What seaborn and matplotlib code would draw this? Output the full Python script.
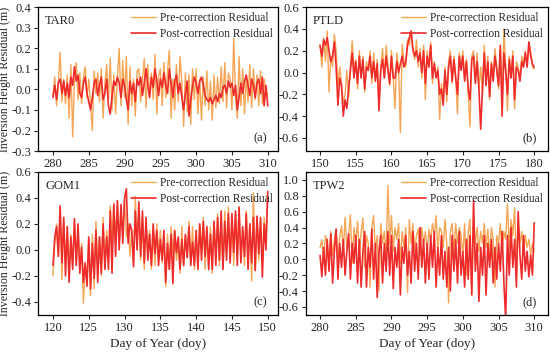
import numpy as np
import pandas as pd
import matplotlib
matplotlib.use('Agg')
import matplotlib.pyplot as plt
import seaborn as sns

# values, 4 samples per day (one row = one day)
tar0_pre = [
    -0.03, 0.06, -0.08, 0.04,
    0.18, -0.06, 0.05, -0.07,
    0.07, -0.14, 0.12, -0.23,
    0.04, 0.13, -0.05, 0.08,
    -0.07, 0.06, 0.11, -0.04,
    0.05, -0.08, -0.20, 0.09,
    -0.02, 0.08, -0.06, 0.10,
    -0.14, 0.03, 0.12, -0.05,
    0.15, -0.10, 0.07, -0.12,
    0.06, 0.20, -0.08, 0.14,
    -0.04, 0.16, -0.17, 0.11,
    -0.08, 0.05, -0.13, 0.09,
    0.10, -0.06, 0.04, 0.15,
    -0.09, 0.12, -0.03, 0.08,
    -0.05, 0.17, -0.12, 0.06,
    0.10, -0.08, 0.13, -0.04,
    0.09, 0.19, -0.14, 0.05,
    -0.10, 0.12, -0.06, 0.16,
    0.04, -0.18, 0.08, -0.11,
    0.07, -0.17, 0.10, -0.05,
    0.10, -0.12, 0.05, -0.15,
    0.06, -0.08, 0.09, -0.10,
    0.04, -0.15, 0.07, -0.09,
    0.06, -0.07, 0.11, -0.06,
    0.13, -0.09, 0.08, 0.05,
    -0.10, 0.25, -0.04, -0.14,
    0.16, -0.08, 0.10, -0.12,
    0.06, -0.06, 0.12, -0.09,
    0.10, -0.05, 0.07, -0.08,
    0.09, -0.07, 0.05, -0.04,
    -0.02]
tar0_post = [
    -0.04, 0.02, -0.05, 0.03,
    0.05, -0.02, 0.04, -0.03,
    0.03, -0.04, 0.06, 0.02,
    0.11, 0.04, 0.07, -0.02,
    -0.04, 0.03, 0.06, -0.02,
    -0.06, -0.10, -0.04, 0.03,
    0.05, -0.03, 0.02, 0.06,
    -0.05, -0.02, 0.05, -0.08,
    -0.12, -0.03, 0.04, 0.02,
    0.06, 0.03, -0.04, 0.05,
    0.02, -0.05, -0.10, 0.04,
    -0.02, 0.03, -0.06, 0.05,
    0.02, 0.06, -0.03, 0.03,
    0.10, 0.02, -0.04, 0.06,
    0.01, 0.10, 0.04, -0.03,
    0.05, 0.01, 0.08, 0.02,
    -0.02, 0.10, 0.03, -0.04,
    0.04, 0.07, -0.02, 0.03,
    -0.04, -0.10, -0.02, 0.04,
    -0.13, -0.05, 0.02, 0.06,
    0.03, -0.02, 0.04, 0.06,
    0.02, -0.03, -0.05, -0.06,
    -0.04, -0.07, -0.05, -0.03,
    -0.06, -0.02, -0.04, 0.01,
    0.02, -0.02, 0.04, 0.01,
    0.03, -0.03, 0.02, -0.10,
    -0.04, 0.03, -0.02, 0.04,
    0.07, 0.02, -0.03, 0.05,
    0.02, -0.04, 0.03, 0.05,
    -0.02, 0.06, -0.08, 0.02,
    -0.08]

ptld_pre = [
    0.25, 0.05, 0.32, 0.10,
    0.38, -0.18, 0.15, 0.05,
    0.35, 0.20, -0.12, 0.05,
    -0.10, -0.28, -0.20, 0.02,
    -0.22, 0.05, 0.29, 0.03,
    0.12, -0.15, 0.20, -0.05,
    0.15, -0.18, 0.10, 0.02,
    0.20, -0.10, 0.18, -0.05,
    0.12, -0.30, 0.05, 0.22,
    -0.05, 0.25, 0.08, -0.12,
    0.20, -0.05, -0.33, 0.18,
    0.05, -0.55, 0.26, 0.10,
    0.05, 0.30, 0.25, 0.38,
    0.20, 0.12, 0.30, 0.05,
    0.22, -0.05, 0.25, -0.25,
    0.20, 0.05, 0.28, -0.10,
    0.10, -0.05, 0.05, -0.43,
    -0.10, -0.25, 0.05, -0.27,
    0.10, 0.20, -0.10, 0.15,
    -0.05, -0.38, 0.18, 0.05,
    0.20, -0.05, 0.12, -0.20,
    -0.50, 0.15, 0.20, -0.05,
    0.18, -0.15, 0.05, -0.20,
    0.25, -0.10, 0.15, -0.25,
    0.10, -0.05, 0.22, 0.05,
    -0.15, 0.20, -0.30, 0.40,
    0.05, -0.35, 0.15, -0.05,
    0.20, -0.33, 0.10, 0.05,
    -0.05, 0.15, 0.08, 0.20,
    0.05, 0.28, 0.20, 0.05,
    0.03]
ptld_post = [
    0.25, 0.15, 0.30, 0.25,
    0.32, 0.20, 0.10, 0.15,
    0.28, 0.05, -0.30, -0.05,
    -0.12, -0.40, -0.25, -0.33,
    -0.15, 0.02, 0.18, -0.05,
    0.10, -0.10, 0.15, -0.05,
    0.12, -0.15, 0.05, 0.02,
    0.15, -0.05, 0.10, -0.08,
    0.08, -0.35, 0.02, 0.12,
    -0.05, 0.15, 0.02, -0.10,
    0.15, -0.05, -0.05, 0.10,
    0.00, 0.08, 0.15, 0.05,
    0.10, 0.25, 0.32, 0.38,
    0.22, 0.15, 0.20, 0.10,
    0.18, 0.00, 0.20, -0.10,
    0.15, 0.05, 0.25, -0.05,
    0.08, -0.05, 0.02, -0.20,
    -0.15, -0.30, 0.02, -0.20,
    0.05, 0.15, -0.08, 0.12,
    -0.05, -0.20, 0.15, 0.02,
    0.15, -0.08, 0.10, -0.15,
    -0.25, 0.12, 0.15, -0.10,
    0.10, -0.15, -0.52, -0.15,
    0.18, -0.12, 0.10, -0.22,
    0.08, -0.08, 0.15, 0.02,
    -0.12, 0.25, -0.40, 0.18,
    0.02, -0.20, 0.12, -0.05,
    0.15, -0.25, 0.05, 0.02,
    -0.08, 0.10, 0.05, 0.18,
    0.05, 0.28, 0.15, 0.08,
    0.05]

gom1_pre = [
    -0.20, 0.05, 0.20, -0.05,
    0.30, -0.23, 0.22, -0.10,
    0.18, -0.20, 0.12, -0.12,
    0.20, -0.12, 0.15, -0.15,
    0.05, -0.41, -0.10, -0.25,
    0.08, -0.35, 0.12, -0.30,
    0.22, -0.15, 0.10, -0.20,
    0.25, -0.12, 0.15, -0.10,
    0.34, 0.05, 0.36, 0.10,
    0.35, 0.05, 0.30, 0.15,
    0.38, 0.10, 0.20, -0.05,
    0.15, -0.10, 0.41, 0.05,
    0.30, -0.08, 0.25, -0.15,
    0.20, -0.02, 0.15, -0.15,
    0.12, -0.12, 0.20, -0.05,
    0.15, -0.10, 0.08, -0.28,
    0.12, -0.15, 0.18, -0.02,
    0.15, -0.08, 0.05, -0.18,
    0.18, -0.12, 0.10, -0.05,
    0.22, -0.10, 0.18, -0.15,
    0.12, -0.12, 0.20, 0.00,
    0.25, -0.15, 0.12, -0.12,
    0.18, -0.18, 0.22, -0.04,
    0.28, -0.12, 0.15, -0.15,
    0.30, -0.02, 0.33, -0.08,
    0.20, -0.12, 0.28, 0.00,
    0.32, -0.08, 0.15, -0.12,
    0.30, -0.10, 0.20, -0.24,
    0.44, -0.15, 0.25, -0.08,
    0.22, -0.10, 0.25, 0.10,
    0.40]
gom1_post = [
    -0.12, 0.10, 0.18, -0.05,
    0.34, -0.10, 0.25, -0.20,
    0.18, -0.25, 0.10, -0.15,
    0.24, -0.12, 0.20, -0.18,
    0.02, -0.25, -0.10, -0.28,
    0.10, -0.30, 0.05, -0.22,
    0.15, -0.25, 0.10, -0.18,
    0.20, -0.15, 0.10, -0.15,
    0.30, -0.18, 0.35, -0.05,
    0.38, 0.00, 0.35, 0.05,
    0.40, 0.47, 0.05, 0.20,
    0.15, -0.13, 0.30, 0.00,
    0.37, -0.05, 0.30, -0.10,
    0.25, -0.08, 0.12, -0.12,
    0.20, -0.03, 0.15, -0.12,
    0.08, -0.08, 0.15, -0.25,
    0.05, -0.15, 0.12, -0.26,
    0.15, -0.02, 0.10, -0.15,
    0.08, -0.12, 0.12, -0.06,
    0.18, -0.12, 0.06, -0.12,
    0.15, -0.15, 0.20, -0.08,
    0.22, -0.05, 0.18, -0.15,
    0.12, -0.15, 0.22, -0.12,
    0.25, -0.08, 0.30, -0.15,
    0.22, -0.08, 0.28, -0.10,
    0.28, -0.02, 0.30, -0.12,
    0.33, -0.10, 0.18, -0.05,
    0.28, -0.15, 0.20, -0.10,
    0.25, -0.16, 0.26, -0.03,
    0.25, -0.21, 0.20, 0.00,
    0.45]

tpw2_pre = [
    0.15, 0.25, -0.05, 0.30,
    0.20, -0.10, 0.35, 0.05,
    0.25, 0.38, -0.05, 0.28,
    0.42, 0.10, 0.53, 0.15,
    0.30, 0.56, -0.05, 0.40,
    0.20, 0.48, 0.05, 0.35,
    0.52, -0.10, 0.30, 0.20,
    -0.35, 0.40, 0.55, 0.10,
    0.30, -0.40, 0.45, 0.20,
    0.35, 0.05, 0.93, 0.20,
    0.55, 0.10, 0.40, 0.25,
    0.45, -0.05, 0.35, 0.15,
    0.40, -0.42, 0.50, 0.20,
    0.45, 0.10, 0.30, 0.38,
    0.05, 0.40, 0.20, 0.35,
    0.10, 0.38, 0.25, 0.45,
    0.30, 0.55, 0.10, 0.40,
    0.35, 0.15, 0.50, 0.20,
    -0.55, 0.35, 0.45, 0.10,
    0.45, 0.20, 0.40, 0.30,
    0.05, 0.45, -0.20, 0.35,
    0.50, -0.42, 0.45, 0.20,
    0.40, 0.10, 0.35, 0.20,
    0.45, 0.15, 0.38, 0.05,
    0.40, 0.25, -0.35, 0.30,
    0.20, 0.45, 0.10, 0.35,
    0.25, 0.70, 0.15, 0.50,
    0.30, 0.65, -0.10, 0.45,
    0.20, 0.35, 0.10, 0.30,
    0.15, 0.25, 0.05, 0.20,
    0.10]
tpw2_post = [
    0.05, -0.22, 0.15, -0.20,
    0.25, -0.15, 0.32, -0.30,
    0.10, 0.38, -0.25, 0.20,
    -0.10, 0.25, -0.20, 0.10,
    0.32, -0.25, 0.20, -0.05,
    0.30, -0.30, 0.25, -0.35,
    0.10, 0.35, -0.35, 0.15,
    -0.10, 0.38, -0.25, 0.20,
    -0.48, 0.10, 0.30, -0.30,
    0.20, -0.15, 0.35, -0.20,
    0.30, -0.37, 0.15, -0.10,
    0.25, -0.45, 0.15, -0.05,
    0.30, -0.20, 0.10, -0.30,
    0.35, -0.15, 0.20, -0.25,
    0.40, -0.10, 0.25, -0.30,
    0.20, -0.25, 0.30, -0.10,
    0.35, -0.35, 0.15, -0.20,
    0.30, -0.25, 0.10, -0.35,
    0.15, -0.40, 0.30, -0.15,
    0.25, -0.30, 0.35, -0.20,
    0.10, -0.35, 0.25, -0.25,
    0.30, -0.45, 0.74, -0.15,
    0.20, -0.53, 0.15, -0.20,
    0.30, -0.45, 0.20, -0.10,
    0.25, -0.30, 0.15, -0.25,
    0.20, -0.15, 0.35, -0.30,
    -0.75, 0.30, -0.20, 0.40,
    -0.10, 0.25, -0.35, 0.60,
    0.05, -0.25, 0.30, -0.15,
    0.10, -0.22, 0.05, -0.20,
    0.46]

stations = ["TAR0", "PTLD", "GOM1", "TPW2"]
start_days = [280, 150, 120, 280]
panel_tags = ["(a)", "(b)", "(c)", "(d)"]
pre_series = [tar0_pre, ptld_pre, gom1_pre, tpw2_pre]
post_series = [tar0_post, ptld_post, gom1_post, tpw2_post]
ylims = [(-0.3, 0.4), (-0.72, 0.6), (-0.5, 0.6), (-0.7, 1.1)]
yticks = [np.arange(-0.3, 0.41, 0.1), np.arange(-0.6, 0.61, 0.2),
          np.arange(-0.4, 0.61, 0.2), np.arange(-0.6, 1.01, 0.2)]
xpads = [(2.1, 31.4), (2.0, 31.9), (2.1, 31.4), (2.0, 31.9)]

sns.set_theme(style="ticks")
plt.rcParams['font.family'] = ['Liberation Serif', 'DejaVu Serif']

pre_color = '#F5A556'
post_color = '#EE2B2B'

fig = plt.figure(figsize=(5.5, 3.53), dpi=100)
boxes = [[0.069, 0.572, 0.436, 0.408],
         [0.556, 0.572, 0.440, 0.408],
         [0.069, 0.108, 0.436, 0.405],
         [0.556, 0.108, 0.440, 0.405]]

for i in range(4):
    ax = fig.add_axes(boxes[i])
    n = len(pre_series[i])
    days = start_days[i] + np.arange(n) / 4.0
    df = pd.DataFrame({"day": days, "pre": pre_series[i], "post": post_series[i]})
    sns.lineplot(data=df, x="day", y="pre", ax=ax, color=pre_color, lw=1.0,
                 label="Pre-correction Residual")
    sns.lineplot(data=df, x="day", y="post", ax=ax, color=post_color, lw=1.2,
                 label="Post-correction Residual")
    s = start_days[i]
    ax.set_xlim(s - xpads[i][0], s + xpads[i][1])
    ax.set_xticks(np.arange(s, s + 31, 5))
    ax.set_ylim(*ylims[i])
    ax.set_yticks(yticks[i])
    ax.set_yticklabels([f"{v:.1f}" for v in yticks[i]])
    ax.tick_params(labelsize=9, length=3, width=0.8, direction='out', pad=2)
    for sp in ax.spines.values():
        sp.set_linewidth(0.9)
        sp.set_color('black')
    ax.set_xlabel("Day of Year (doy)" if i >= 2 else "", fontsize=9.5, labelpad=3)
    if i % 2 == 0:
        ax.set_ylabel("Inversion Height Residual (m)", fontsize=8.6)
        ax.yaxis.set_label_coords(-0.112, 0.5)
    else:
        ax.set_ylabel("")
    ax.text(0.03, 0.88, stations[i], transform=ax.transAxes, fontsize=9)
    ax.text(0.955, 0.07, panel_tags[i], transform=ax.transAxes, fontsize=9, ha='right')
    ax.legend(loc='upper right', frameon=False, fontsize=8.3, handlelength=2.2,
              handletextpad=0.3, borderaxespad=0.05, labelspacing=0.35)

fig.savefig("out.png", dpi=100)
plt.close(fig)
